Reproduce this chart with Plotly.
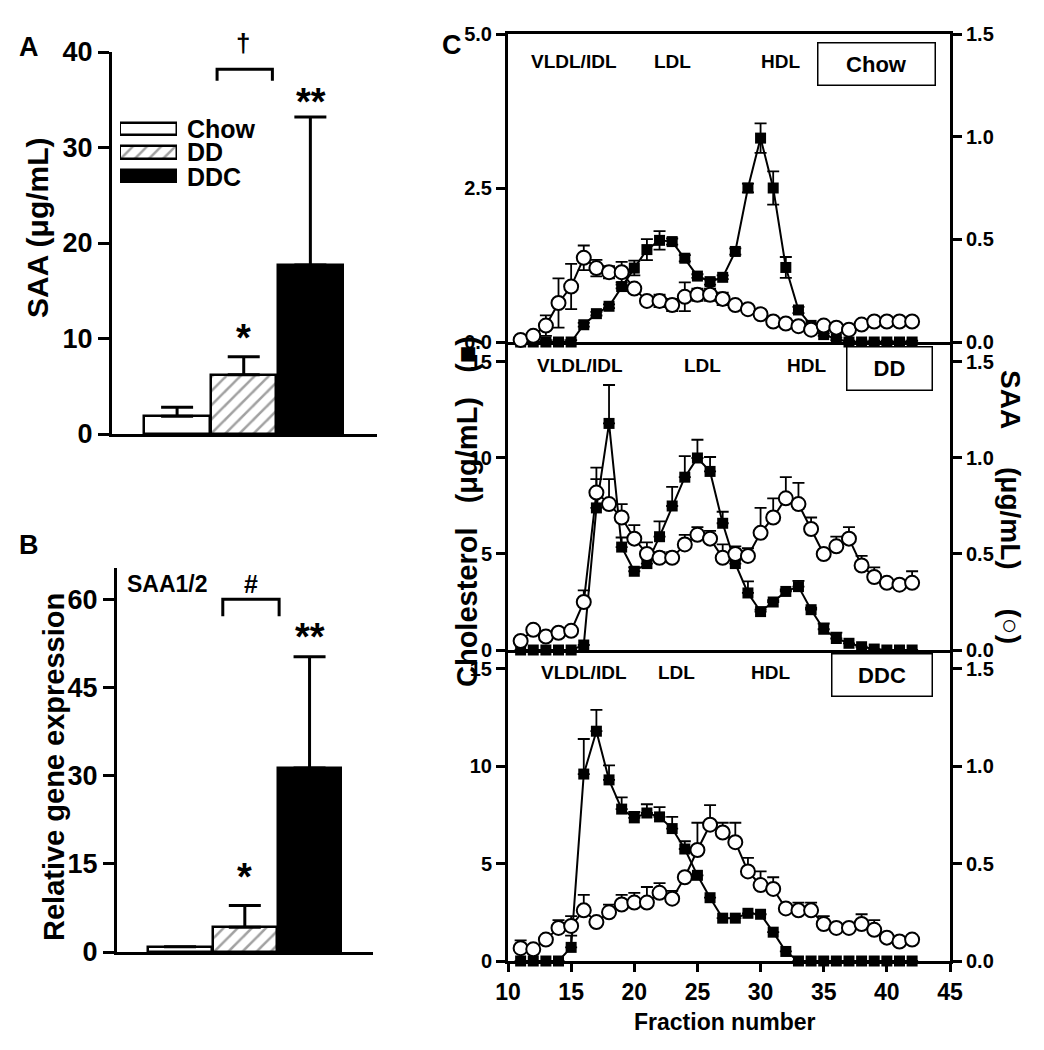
import plotly.graph_objects as go

# ---------------- data ----------------
groups = ["Chow", "DD", "DDC"]
saa_plasma = [1.85, 6.2, 17.7]
saa_plasma_err = [0.95, 1.9, 15.5]
gene_expr = [0.9, 4.2, 31.3]
gene_expr_err = [0.0, 3.7, 18.9]

fractions = list(range(11, 43))

chow_chol = [0, 0, 0, 0, 0, 0.28, 0.46, 0.58, 0.9, 1.2, 1.5, 1.65, 1.63, 1.36, 1.07, 0.98,
             1.05, 1.47, 2.5, 3.31, 2.5, 1.21, 0.52, 0.27, 0.12, 0.05, 0, 0, 0, 0, 0, 0]
chow_chol_err = [0.03, 0.03, 0.03, 0.03, 0.03, 0.03, 0.03, 0.03, 0.03, 0.12, 0.17, 0.15, 0.05,
                 0.05, 0.03, 0.05, 0.03, 0.05, 0.07, 0.24, 0.27, 0.17, 0.05, 0.02, 0.02, 0.02,
                 0.02, 0.02, 0.02, 0.02, 0.02, 0.02]
chow_saa = [0.01, 0.03, 0.08, 0.19, 0.27, 0.41, 0.36, 0.34, 0.34, 0.26, 0.20, 0.20, 0.18, 0.22,
            0.23, 0.23, 0.21, 0.18, 0.16, 0.135, 0.10, 0.09, 0.077, 0.06, 0.08, 0.07, 0.06,
            0.085, 0.10, 0.10, 0.10, 0.10]
chow_saa_err = [0.0, 0.0, 0.05, 0.12, 0.11, 0.06, 0.04, 0.03, 0.05, 0.02, 0.02, 0.03, 0.03, 0.07,
                0.03, 0.03, 0.03, 0.02, 0.02, 0.02, 0.01, 0.01, 0.01, 0.01, 0.01, 0.01, 0.01,
                0.01, 0.01, 0.01, 0.01, 0.01]

dd_chol = [0, 0, 0, 0, 0, 0.26, 7.4, 11.8, 5.36, 4.1, 4.5, 5.9, 7.5, 9.0, 10.0, 9.3, 6.6, 4.5,
           2.97, 2.0, 2.5, 3.05, 3.3, 2.1, 1.08, 0.6, 0.35, 0.17, 0.05, 0, 0, 0]
dd_chol_err = [0, 0, 0, 0, 0, 0, 2.1, 2.0, 0.5, 0.2, 0.3, 0.8, 1.0, 1.1, 0.95, 0.75, 0.6, 0.2,
               0.6, 0.1, 0.1, 0.1, 0.3, 0.1, 0.3, 0.3, 0, 0, 0, 0, 0, 0]
dd_saa = [0.047, 0.105, 0.07, 0.09, 0.10, 0.25, 0.82, 0.76, 0.69, 0.58, 0.50, 0.48, 0.48, 0.55,
          0.60, 0.58, 0.48, 0.50, 0.49, 0.61, 0.69, 0.79, 0.76, 0.63, 0.50, 0.54, 0.58, 0.44,
          0.38, 0.35, 0.34, 0.35]
dd_saa_err = [0, 0, 0, 0, 0, 0.06, 0.07, 0.13, 0.07, 0.07, 0.06, 0.03, 0.03, 0.05, 0.04, 0.04,
              0.07, 0.04, 0.04, 0.13, 0.10, 0.11, 0.11, 0.06, 0.02, 0.05, 0.06, 0.05, 0.05,
              0.02, 0.0, 0.06]

ddc_chol = [0, 0, 0, 0, 0.7, 9.6, 11.8, 9.3, 7.8, 7.35, 7.6, 7.4, 6.8, 5.75, 4.4, 3.25, 2.2,
            2.2, 2.45, 2.4, 1.48, 0.49, 0, 0, 0, 0, 0, 0, 0, 0, 0, 0]
ddc_chol_err = [0, 0, 0, 0, 0.6, 1.8, 1.1, 0.75, 0.6, 0.3, 0.45, 0.5, 0.6, 0.4, 0, 0, 0, 0, 0,
                0, 0, 0, 0, 0, 0, 0, 0, 0, 0, 0, 0, 0]
ddc_saa = [0.066, 0.06, 0.11, 0.17, 0.18, 0.26, 0.20, 0.25, 0.29, 0.30, 0.30, 0.35, 0.32, 0.43,
           0.57, 0.70, 0.66, 0.61, 0.46, 0.39, 0.37, 0.27, 0.26, 0.26, 0.19, 0.17, 0.17, 0.19,
           0.16, 0.12, 0.10, 0.11]
ddc_saa_err = [0.04, 0, 0, 0.04, 0.05, 0.08, 0, 0.04, 0.05, 0.05, 0.08, 0.05, 0.04, 0, 0.14,
               0.1, 0.05, 0.1, 0.07, 0.07, 0.06, 0, 0.04, 0.04, 0.04, 0, 0, 0.05, 0.05, 0, 0, 0]

# ---------------- layout helpers ----------------
PAGE_W, PAGE_H = 1044, 1050
OFF = 8                      # default page margin of the html body
W, H = PAGE_W - 2 * OFF, PAGE_H - 2 * OFF
FONT = "Liberation Sans, Arial, Helvetica, sans-serif"


def px(x):
    return (x - OFF) / W


def py(y):
    return 1 - (y - OFF) / H


bar_colors = ["white", "white", "black"]
bar_patterns = ["", "/", ""]

fig = go.Figure()

bar_marker = dict(color=bar_colors, line=dict(color="black", width=2.5),
                  pattern=dict(shape=bar_patterns, fgcolor="black", bgcolor="white",
                               size=10, solidity=0.25))

# Panel A
fig.add_trace(go.Bar(x=groups, y=saa_plasma, xaxis="x", yaxis="y", width=0.98,
                     marker=bar_marker, cliponaxis=False,
                     error_y=dict(type="data", array=saa_plasma_err, arrayminus=[0, 0, 0],
                                  symmetric=False, color="black", thickness=3, width=16)))
# Panel B
fig.add_trace(go.Bar(x=groups, y=gene_expr, xaxis="x2", yaxis="y2", width=0.98,
                     marker=bar_marker, cliponaxis=False,
                     error_y=dict(type="data", array=gene_expr_err, arrayminus=[0, 0, 0],
                                  symmetric=False, color="black", thickness=3, width=16)))
# legend swatches for panel A
fig.add_trace(go.Bar(y=groups, x=[1, 1, 1], orientation="h", xaxis="x6", yaxis="y9",
                     width=0.52, marker=bar_marker, cliponaxis=False))


def add_profile(chol, chol_err, saa, saa_err, xa, ya_left, ya_right, sym):
    fig.add_trace(go.Scatter(
        x=fractions, y=chol, xaxis=xa, yaxis=ya_left, mode="lines+markers", cliponaxis=False,
        line=dict(color="black", width=2),
        marker=dict(symbol="square", size=11, color="black"),
        error_y=dict(type="data", array=chol_err, symmetric=sym,
                     arrayminus=None if sym else [0] * len(chol_err),
                     color="black", thickness=1.8, width=6)))
    fig.add_trace(go.Scatter(
        x=fractions, y=saa, xaxis=xa, yaxis=ya_right, mode="lines+markers", cliponaxis=False,
        line=dict(color="black", width=2),
        marker=dict(symbol="circle", size=14, color="white", line=dict(color="black", width=2)),
        error_y=dict(type="data", array=saa_err, symmetric=sym,
                     arrayminus=None if sym else [0] * len(saa_err),
                     color="black", thickness=1.8, width=6)))


add_profile(chow_chol, chow_chol_err, chow_saa, chow_saa_err, "x3", "y3", "y4", True)
add_profile(dd_chol, dd_chol_err, dd_saa, dd_saa_err, "x4", "y5", "y6", False)
add_profile(ddc_chol, ddc_chol_err, ddc_saa, ddc_saa_err, "x5", "y7", "y8", False)

axl = dict(showgrid=False, zeroline=False, showline=True, linecolor="black", linewidth=3,
           tickcolor="black", tickwidth=3, automargin=False)

right_vals = [0, 0.5, 1.0, 1.5]
right_text = ["0.0", "0.5", "1.0", "1.5"]
cx_dom = [px(508), px(950)]
tf20 = dict(size=20, family=FONT, weight="bold")

layout = dict(
    width=W, height=H, margin=dict(l=0, r=0, t=0, b=0, autoexpand=False), showlegend=False,
    plot_bgcolor="white", paper_bgcolor="white",
    font=dict(family=FONT, color="black", size=16, weight="bold"),
    bargap=0,
    # Panel A
    xaxis=dict(**axl, domain=[px(112), px(377)], anchor="y", type="category",
               range=[-0.977, 3.0], ticks="", showticklabels=False),
    yaxis=dict(**axl, domain=[py(434), py(52)], anchor="x", range=[0, 40],
               tickvals=[0, 10, 20, 30, 40], ticks="outside", ticklen=11,
               tickfont=dict(size=27, family=FONT, weight="bold")),
    # Panel B
    xaxis2=dict(**axl, domain=[px(117), px(373)], anchor="y2", type="category",
                range=[-0.974, 2.98], ticks="", showticklabels=False),
    yaxis2=dict(**axl, domain=[py(952), py(568)], anchor="x2", range=[0, 65.3],
                tickvals=[0, 15, 30, 45, 60], ticks="outside", ticklen=11,
                tickfont=dict(size=27, family=FONT, weight="bold")),
    # legend swatches
    xaxis6=dict(domain=[px(120), px(177)], anchor="y9", range=[0, 1], visible=False,
                automargin=False),
    yaxis9=dict(domain=[py(188), py(117)], anchor="x6", type="category",
                autorange="reversed", visible=False, automargin=False),
    # Panel C top
    xaxis3=dict(**axl, domain=cx_dom, anchor="y3", range=[10, 45], ticks="",
                showticklabels=False, mirror=True, layer="below traces"),
    yaxis3=dict(**axl, domain=[py(342), py(34)], anchor="x3", range=[0, 5],
                tickvals=[0, 2.5, 5], ticktext=["0.0", "2.5", "5.0"], ticks="outside",
                ticklen=9, tickfont=tf20, layer="below traces"),
    yaxis4=dict(**axl, overlaying="y3", side="right", anchor="x3", range=[0, 1.5],
                tickvals=right_vals, ticktext=right_text, ticks="outside", ticklen=9,
                tickfont=tf20, layer="below traces"),
    # Panel C middle
    xaxis4=dict(**axl, domain=cx_dom, anchor="y5", range=[10, 45], ticks="",
                showticklabels=False, layer="below traces"),
    yaxis5=dict(**axl, domain=[py(650), py(342)], anchor="x4", range=[0, 16.04],
                tickvals=[0, 5, 10, 15], ticks="outside", ticklen=9,
                tickfont=tf20, layer="below traces"),
    yaxis6=dict(**axl, overlaying="y5", side="right", anchor="x4", range=[0, 1.604],
                tickvals=right_vals, ticktext=right_text, ticks="outside", ticklen=9,
                tickfont=tf20, layer="below traces"),
    # Panel C bottom
    xaxis5=dict(**axl, domain=cx_dom, anchor="y7", range=[10, 45], ticks="outside",
                ticklen=8, tickvals=[10, 15, 20, 25, 30, 35, 40, 45],
                tickfont=dict(size=23, family=FONT, weight="bold"), layer="below traces"),
    yaxis7=dict(**axl, domain=[py(961), py(650)], anchor="x5", range=[0, 15.97],
                tickvals=[0, 5, 10, 15], ticks="outside", ticklen=9,
                tickfont=tf20, layer="below traces"),
    yaxis8=dict(**axl, overlaying="y7", side="right", anchor="x5", range=[0, 1.597],
                tickvals=right_vals, ticktext=right_text, ticks="outside", ticklen=9,
                tickfont=tf20, layer="below traces"),
)
fig.update_layout(**layout)


def txt(x, y, s, size, xanchor="center", angle=0, **kw):
    fig.add_annotation(x=px(x), y=py(y), xref="paper", yref="paper", text=s, showarrow=False,
                       xanchor=xanchor, yanchor="middle", textangle=angle,
                       font=dict(size=size, family=FONT, color="black", weight="bold"), **kw)


# panel letters
txt(29, 47, "A", 27)
txt(29, 545, "B", 27)
txt(452, 45, "C", 27)

# axis titles
txt(38, 228, "SAA (μg/mL)", 30, angle=-90)
txt(54, 767, "Relative gene expression", 29, angle=-90)
txt(467, 512, "Cholesterol   (μg/mL)   (■)", 29, angle=-90)
txt(1010, 507, "SAA     (μg/mL)     (○)", 28, angle=90)
txt(725, 1022, "Fraction number", 23)

# legend texts (panel A)
txt(185, 129, "Chow", 25, xanchor="left")
txt(185, 152, "DD", 25, xanchor="left")
txt(185, 177, "DDC", 25, xanchor="left")

# significance marks
txt(243, 43, "†", 26)
txt(311, 102, "**", 38)
txt(243, 338, "*", 38)
txt(167, 584, "SAA1/2", 23)
txt(251, 584, "#", 25)
txt(310, 637, "**", 38)
txt(244, 877, "*", 38)

# brackets
fig.add_shape(type="path", xref="x", yref="y", path="M 0.6,37.0 L 0.6,38.2 L 1.43,38.2 L 1.43,37.0",
              line=dict(color="black", width=3))
fig.add_shape(type="path", xref="x2", yref="y2",
              path="M 0.66,57.1 L 0.66,60 L 1.53,60 L 1.53,57.1",
              line=dict(color="black", width=3))

# lipoprotein labels and diet boxes
for yy, xs in [(62, (574, 672, 780)), (365, (580, 702, 806)), (672, (584, 676, 770))]:
    for xx, lab in zip(xs, ["VLDL/IDL", "LDL", "HDL"]):
        txt(xx, yy, lab, 19)

for (cx, cy, w, h, lab) in [(876, 64, 119, 44, "Chow"), (889, 369, 87, 45, "DD"),
                            (882, 675, 102, 44, "DDC")]:
    fig.add_annotation(x=px(cx), y=py(cy), xref="paper", yref="paper", text=lab,
                       showarrow=False, xanchor="center", yanchor="middle",
                       width=w - 3, height=h - 3, borderpad=0, bordercolor="black",
                       borderwidth=1.5, bgcolor="white",
                       font=dict(size=22, family=FONT, color="black", weight="bold"))

fig.write_html("out.html")
